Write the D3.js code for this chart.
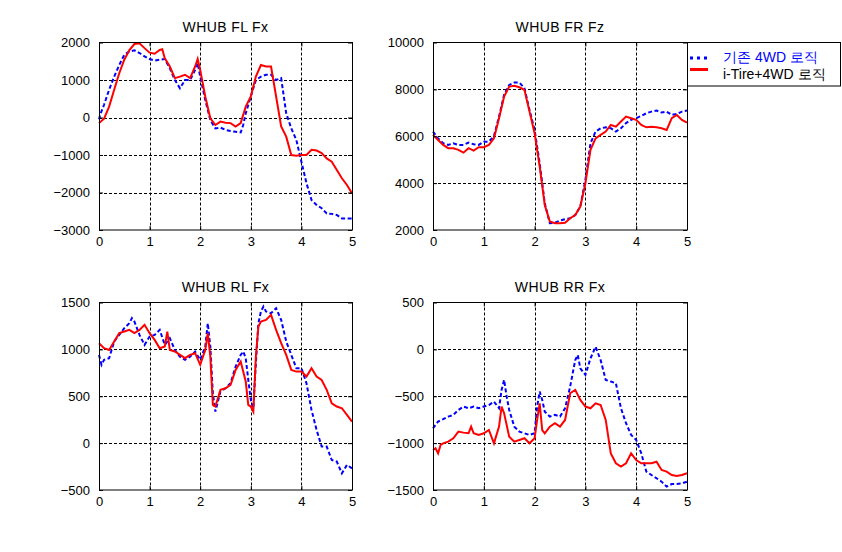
<!DOCTYPE html>
<html><head><meta charset="utf-8">
<script src="https://cdn.jsdelivr.net/npm/d3@7"></script>
<style>
html,body{margin:0;padding:0;background:#fff;}
svg{display:block;}
text{font-family:"Liberation Sans",Arial,Helvetica,sans-serif;}
</style></head>
<body>
<svg id="chart" width="842" height="552"></svg>
<script>
// ---------- data ----------
const titles = ["WHUB FL Fx", "WHUB FR Fz", "WHUB RL Fx", "WHUB RR Fx"];
const legendLabels = ["기존 4WD 로직", "i-Tire+4WD 로직"];
const xTicks = [0, 1, 2, 3, 4, 5];
const yDomains = [[-3000, 2000], [2000, 10000], [-500, 1500], [-1500, 500]];
const yTicks = [
  [-3000, -2000, -1000, 0, 1000, 2000],
  [2000, 4000, 6000, 8000, 10000],
  [-500, 0, 500, 1000, 1500],
  [-1500, -1000, -500, 0, 500]
];

// FL Fx
const flBase = [[0,-50],[0.03,100],[0.1,340],[0.2,740],[0.3,1090],[0.4,1400],[0.5,1670],[0.6,1760],[0.7,1790],[0.8,1720],[0.9,1630],[1.0,1560],[1.1,1520],[1.2,1540],[1.3,1560],[1.4,1310],[1.5,1000],[1.6,780],[1.7,1000],[1.8,1000],[1.9,1270],[1.95,1450],[2.0,1090],[2.1,470],[2.2,-70],[2.3,-290],[2.4,-270],[2.5,-330],[2.6,-360],[2.7,-380],[2.8,-400],[2.85,-200],[2.9,110],[3.0,560],[3.1,1000],[3.2,1090],[3.3,1140],[3.4,1140],[3.5,1000],[3.6,1050],[3.7,110],[3.8,-290],[3.9,-600],[4.0,-1180],[4.1,-1750],[4.2,-2200],[4.3,-2330],[4.4,-2420],[4.5,-2560],[4.6,-2570],[4.7,-2600],[4.8,-2690],[4.9,-2690],[5.0,-2690]];
const flTire = [[0,-150],[0.1,-30],[0.2,290],[0.3,740],[0.4,1180],[0.5,1540],[0.6,1800],[0.7,1960],[0.8,1980],[0.9,1850],[1.0,1730],[1.1,1700],[1.2,1800],[1.25,1820],[1.3,1580],[1.4,1360],[1.5,1050],[1.6,1090],[1.7,1140],[1.8,1050],[1.9,1360],[1.95,1560],[2.0,1270],[2.1,560],[2.2,-20],[2.3,-200],[2.4,-110],[2.5,-140],[2.6,-150],[2.7,-240],[2.8,-150],[2.9,290],[3.0,560],[3.1,1090],[3.2,1400],[3.3,1360],[3.4,1360],[3.5,560],[3.6,-240],[3.7,-510],[3.8,-1000],[3.9,-1020],[4.0,-1000],[4.1,-1000],[4.2,-860],[4.3,-880],[4.4,-950],[4.5,-1090],[4.6,-1180],[4.7,-1400],[4.8,-1620],[4.9,-1800],[5.0,-2020]];

// FR Fz
const frBase = [[0,6200],[0.1,5910],[0.2,5700],[0.3,5630],[0.4,5700],[0.5,5630],[0.6,5630],[0.7,5730],[0.8,5660],[0.9,5630],[1.0,5770],[1.1,5770],[1.2,6010],[1.3,6840],[1.4,7770],[1.5,8190],[1.6,8290],[1.7,8290],[1.8,8050],[1.9,7120],[2.0,6270],[2.1,4850],[2.2,3140],[2.3,2290],[2.4,2310],[2.5,2400],[2.6,2460],[2.7,2500],[2.8,2640],[2.9,3000],[3.0,4140],[3.1,5700],[3.2,6200],[3.3,6340],[3.4,6380],[3.5,6340],[3.6,6200],[3.7,6340],[3.8,6560],[3.9,6700],[4.0,6770],[4.1,6870],[4.2,6980],[4.3,7050],[4.4,7100],[4.5,7010],[4.6,7050],[4.7,6910],[4.8,6950],[4.9,7050],[5.0,7100]];
const frTire = [[0,6060],[0.1,5840],[0.2,5630],[0.3,5490],[0.4,5490],[0.5,5420],[0.6,5300],[0.7,5490],[0.8,5390],[0.9,5530],[1.0,5530],[1.1,5630],[1.2,5910],[1.3,6770],[1.4,7690],[1.5,8120],[1.6,8150],[1.7,8090],[1.8,7980],[1.9,7050],[2.0,6130],[2.1,4710],[2.2,3070],[2.3,2360],[2.4,2290],[2.5,2290],[2.6,2310],[2.7,2500],[2.8,2640],[2.9,3000],[3.0,3990],[3.1,5420],[3.2,5910],[3.3,6060],[3.4,6200],[3.5,6480],[3.6,6410],[3.7,6630],[3.8,6840],[3.9,6770],[4.0,6700],[4.1,6480],[4.2,6380],[4.3,6410],[4.4,6380],[4.5,6340],[4.6,6270],[4.7,6770],[4.8,6910],[4.9,6700],[5.0,6580]];

// RL Fx
const rlBase = [[0,941],[0.05,835],[0.1,888],[0.2,906],[0.3,1084],[0.4,1155],[0.5,1226],[0.6,1279],[0.65,1333],[0.7,1297],[0.8,1155],[0.9,1048],[1.0,1137],[1.1,1155],[1.2,1208],[1.3,1048],[1.4,1119],[1.5,993],[1.6,922],[1.7,888],[1.8,922],[1.9,977],[2.0,888],[2.1,1030],[2.15,1279],[2.2,1030],[2.25,532],[2.3,336],[2.4,550],[2.5,585],[2.6,639],[2.7,817],[2.8,941],[2.85,977],[2.9,906],[2.95,674],[3.0,461],[3.05,372],[3.1,852],[3.15,1279],[3.2,1404],[3.25,1457],[3.3,1404],[3.4,1386],[3.5,1440],[3.6,1315],[3.7,1084],[3.8,941],[3.9,799],[4.0,799],[4.1,639],[4.2,354],[4.3,141],[4.4,-37],[4.5,-37],[4.6,-180],[4.7,-197],[4.8,-322],[4.9,-233],[5.0,-269]];
const rlTire = [[0,1066],[0.1,1012],[0.2,993],[0.3,1084],[0.4,1173],[0.5,1190],[0.6,1208],[0.7,1173],[0.8,1208],[0.9,1262],[1.0,1173],[1.1,1101],[1.2,1012],[1.3,1030],[1.35,1190],[1.4,993],[1.5,977],[1.6,941],[1.7,906],[1.8,941],[1.9,959],[2.0,835],[2.1,993],[2.15,1173],[2.2,922],[2.25,407],[2.3,390],[2.4,568],[2.5,585],[2.6,621],[2.7,781],[2.8,870],[2.9,657],[2.95,407],[3.0,390],[3.05,336],[3.1,922],[3.15,1244],[3.2,1297],[3.3,1315],[3.4,1368],[3.5,1208],[3.6,1066],[3.7,941],[3.8,781],[3.9,763],[4.0,763],[4.1,710],[4.2,799],[4.3,710],[4.4,674],[4.5,568],[4.6,425],[4.7,390],[4.8,372],[4.9,301],[5.0,229]];

// RR Fx
const rrBase = [[0,-843],[0.1,-770],[0.2,-745],[0.3,-717],[0.4,-699],[0.5,-646],[0.6,-610],[0.7,-628],[0.8,-610],[0.9,-628],[1.0,-610],[1.1,-593],[1.2,-557],[1.3,-628],[1.35,-432],[1.4,-326],[1.45,-504],[1.5,-646],[1.6,-824],[1.7,-877],[1.8,-895],[1.9,-913],[2.0,-895],[2.05,-610],[2.1,-450],[2.15,-539],[2.2,-664],[2.3,-717],[2.4,-699],[2.5,-717],[2.6,-628],[2.7,-397],[2.8,-114],[2.85,-60],[2.9,-203],[3.0,-272],[3.1,-96],[3.2,28],[3.3,-114],[3.4,-326],[3.5,-343],[3.6,-361],[3.7,-628],[3.8,-788],[3.9,-913],[4.0,-966],[4.1,-1109],[4.2,-1304],[4.3,-1340],[4.4,-1375],[4.5,-1411],[4.6,-1464],[4.7,-1436],[4.8,-1436],[4.9,-1429],[5.0,-1411]];
const rrTire = [[0,-1073],[0.05,-1055],[0.1,-1109],[0.15,-1020],[0.2,-1002],[0.3,-984],[0.4,-948],[0.5,-877],[0.6,-888],[0.7,-895],[0.75,-824],[0.8,-895],[0.9,-913],[1.0,-895],[1.1,-860],[1.2,-1002],[1.3,-824],[1.35,-610],[1.4,-681],[1.5,-931],[1.6,-984],[1.7,-966],[1.8,-948],[1.9,-1002],[2.0,-948],[2.05,-753],[2.1,-575],[2.15,-860],[2.2,-895],[2.3,-824],[2.4,-788],[2.5,-824],[2.6,-753],[2.7,-468],[2.8,-432],[2.9,-539],[3.0,-610],[3.1,-628],[3.2,-575],[3.3,-593],[3.4,-753],[3.5,-1109],[3.6,-1215],[3.7,-1251],[3.8,-1215],[3.9,-1109],[4.0,-1180],[4.1,-1215],[4.2,-1215],[4.3,-1215],[4.4,-1198],[4.5,-1286],[4.6,-1304],[4.7,-1340],[4.8,-1350],[4.9,-1340],[5.0,-1322]];

const baseSeries = [flBase, frBase, rlBase, rrBase];
const tireSeries = [flTire, frTire, rlTire, rrTire];

// ---------- layout ----------
const panels = [
  {x0: 99, x1: 352, y0: 42.5, y1: 230},
  {x0: 433, x1: 687, y0: 42.5, y1: 230},
  {x0: 99, x1: 352, y0: 302.5, y1: 490},
  {x0: 433, x1: 687, y0: 302.5, y1: 490}
];
const BLUE = "#0000ff", RED = "#ff0000";
const svg = d3.select("#chart");

panels.forEach((p, i) => {
  const x = d3.scaleLinear().domain([0, 5]).range([p.x0, p.x1]);
  const y = d3.scaleLinear().domain(yDomains[i]).range([p.y1, p.y0]);
  const g = svg.append("g");

  // grid
  g.selectAll(".gx").data(xTicks.slice(1, -1)).enter().append("line")
    .attr("x1", d => Math.round(x(d)) + 0.5).attr("x2", d => Math.round(x(d)) + 0.5)
    .attr("y1", p.y0).attr("y2", p.y1)
    .attr("stroke", "#000").attr("stroke-width", 1).attr("stroke-dasharray", "3,2");
  g.selectAll(".gy").data(yTicks[i].slice(1, -1)).enter().append("line")
    .attr("y1", d => Math.round(y(d)) + 0.5).attr("y2", d => Math.round(y(d)) + 0.5)
    .attr("x1", p.x0).attr("x2", p.x1)
    .attr("stroke", "#000").attr("stroke-width", 1).attr("stroke-dasharray", "3,2");

  // lines
  const line = d3.line().x(d => x(d[0])).y(d => y(d[1]));
  g.append("path").datum(baseSeries[i]).attr("d", line)
    .attr("fill", "none").attr("stroke", BLUE).attr("stroke-width", 2)
    .attr("stroke-dasharray", "4,2.5");
  g.append("path").datum(tireSeries[i]).attr("d", line)
    .attr("fill", "none").attr("stroke", RED).attr("stroke-width", 2);

  // axes with inward ticks
  const ax = g.append("g").attr("transform", `translate(0,${p.y1})`)
    .call(d3.axisBottom(x).tickValues(xTicks).tickSize(-4).tickPadding(7).tickFormat(d3.format("d")));
  const ay = g.append("g").attr("transform", `translate(${p.x0},0)`)
    .call(d3.axisLeft(y).tickValues(yTicks[i]).tickSize(-4).tickPadding(9).tickFormat(d3.format("d")));
  g.append("g").attr("transform", `translate(0,${p.y0})`)
    .call(d3.axisTop(x).tickValues(xTicks).tickSize(-4).tickFormat(""));
  g.append("g").attr("transform", `translate(${p.x1},0)`)
    .call(d3.axisRight(y).tickValues(yTicks[i]).tickSize(-4).tickFormat(""));
  g.selectAll(".domain").remove();
  g.selectAll(".tick line").attr("stroke", "#000");
  g.selectAll(".tick text").attr("font-size", 13).attr("fill", "#000")
    .attr("font-family", "'Liberation Sans',Arial,sans-serif");
  ax.selectAll(".tick text").attr("dy", "0.71em");

  // box
  g.append("rect").attr("x", p.x0 + 0.5).attr("y", p.y0).attr("width", p.x1 - p.x0)
    .attr("height", p.y1 - p.y0).attr("fill", "none").attr("stroke", "#000").attr("stroke-width", 1);

  // title
  g.append("text").attr("x", (p.x0 + p.x1) / 2).attr("y", p.y0 - 10.5)
    .attr("text-anchor", "middle").attr("font-size", 14).attr("letter-spacing", 0.4)
    .text(titles[i]);
});

// legend
const lg = svg.append("g");
lg.append("rect").attr("x", 687.5).attr("y", 42.5).attr("width", 153).attr("height", 43.5)
  .attr("fill", "#fff").attr("stroke", "#000").attr("stroke-width", 1);
lg.append("line").attr("x1", 690).attr("x2", 708).attr("y1", 58).attr("y2", 58)
  .attr("stroke", BLUE).attr("stroke-width", 3).attr("stroke-dasharray", "3,4");
lg.append("line").attr("x1", 690).attr("x2", 708).attr("y1", 69.5).attr("y2", 69.5)
  .attr("stroke", RED).attr("stroke-width", 3);
lg.append("text").attr("x", 723).attr("y", 61.5).attr("font-size", 14).attr("fill", BLUE)
  .attr("font-family", "'Noto Sans CJK KR','Liberation Sans',sans-serif").text(legendLabels[0]);
lg.append("text").attr("x", 723).attr("y", 79).attr("font-size", 14).attr("fill", "#000")
  .attr("font-family", "'Noto Sans CJK KR','Liberation Sans',sans-serif").text(legendLabels[1]);
</script>
</body></html>
